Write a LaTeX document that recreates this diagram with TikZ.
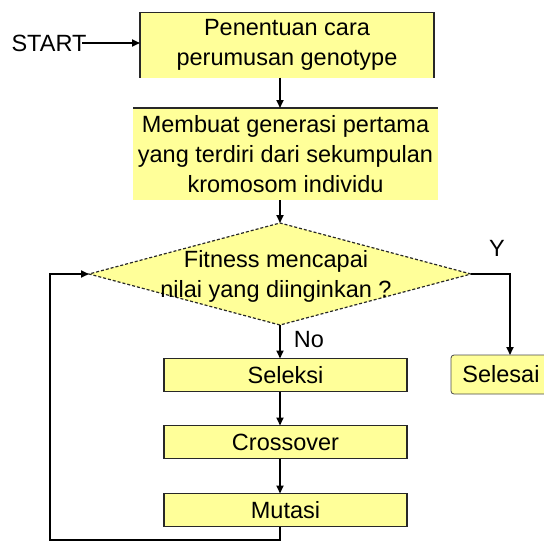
\documentclass[tikz,border=0pt]{standalone}
\usepackage{fontspec}
\setmainfont{Liberation Sans}
\usetikzlibrary{shapes.geometric,arrows.meta}
\definecolor{boxyellow}{RGB}{255,255,153}
\definecolor{edgegray}{RGB}{40,40,40}
\begin{document}
\begin{tikzpicture}[x=1pt,y=-1pt,
  every node/.style={font=\fontsize{23.5}{30}\selectfont, inner sep=0pt, outer sep=0pt, text=black},
  fillbox/.style={fill=boxyellow, align=center},
  stepbox/.style={fill=boxyellow, draw=edgegray, line width=1.5pt, minimum width=243pt, minimum height=33pt},
  edgeline/.style={draw=edgegray, line width=1.6pt},
  arr/.style={-{Triangle[length=8pt,width=7pt]}, line width=1.8pt, black},
  decision/.style={diamond, fill=boxyellow, draw=edgegray, line width=1.2pt, dash pattern=on 3pt off 2pt, minimum width=382pt, minimum height=102pt},
  endbox/.style={fill=boxyellow, draw=gray!60!black, line width=0.8pt, rounded corners=3pt, minimum width=100pt, minimum height=39pt}]
\useasboundingbox (0,0) rectangle (544,542);

% top boxes
\node[fillbox, minimum width=294pt, minimum height=65pt] (b1) at (287,45) {Penentuan cara\\perumusan genotype};
\draw[edgeline] (b1.south west) -- (b1.north west) -- (b1.north east) -- (b1.south east);

\node[fillbox, minimum width=305pt, minimum height=92pt] (b2) at (285.5,154) {Membuat generasi pertama\\yang terdiri dari sekumpulan\\kromosom individu};
\draw[edgeline] (b2.north west) -- (b2.north east);

% start
\node (start) at (49,43) {START};

% decision
\node[decision] (d) at (280,274) {};
\node[align=center] (dtext) at (276,276) {Fitness mencapai\\nilai yang diinginkan ?};

% steps
\node[stepbox] (s1) at (285.5,375) {Seleksi};
\node[stepbox] (s2) at (285.5,442) {Crossover};
\node[stepbox] (s3) at (285.5,510) {Mutasi};

% end box
\node[endbox, anchor=west] (sel) at (451,374.5) {Selesai};

% labels
\node (no) at (309,340) {No};
\node (y) at (497,248) {Y};

% helper coordinates
\coordinate (yc) at (510,0);
\coordinate (loopc) at (50,540);

% connectors
\draw[arr] ([xshift=-4pt]start.east) -- (start.east -| b1.west);
\draw[arr] (b1.south -| d.north) -- (b2.north -| d.north);
\draw[arr] (b2.south -| d.north) -- (d.north);
\draw[arr] (d.south) -- (s1.north -| d.south);
\draw[arr] (s1.south -| d.south) -- (s2.north -| d.south);
\draw[arr] (s2.south -| d.south) -- (s3.north -| d.south);
\draw[arr] (s3.south -| d.south) |- (loopc) |- (d.west);
\draw[arr] (d.east) -- (d.east -| yc) -- (sel.north -| yc);
\end{tikzpicture}
\end{document}
